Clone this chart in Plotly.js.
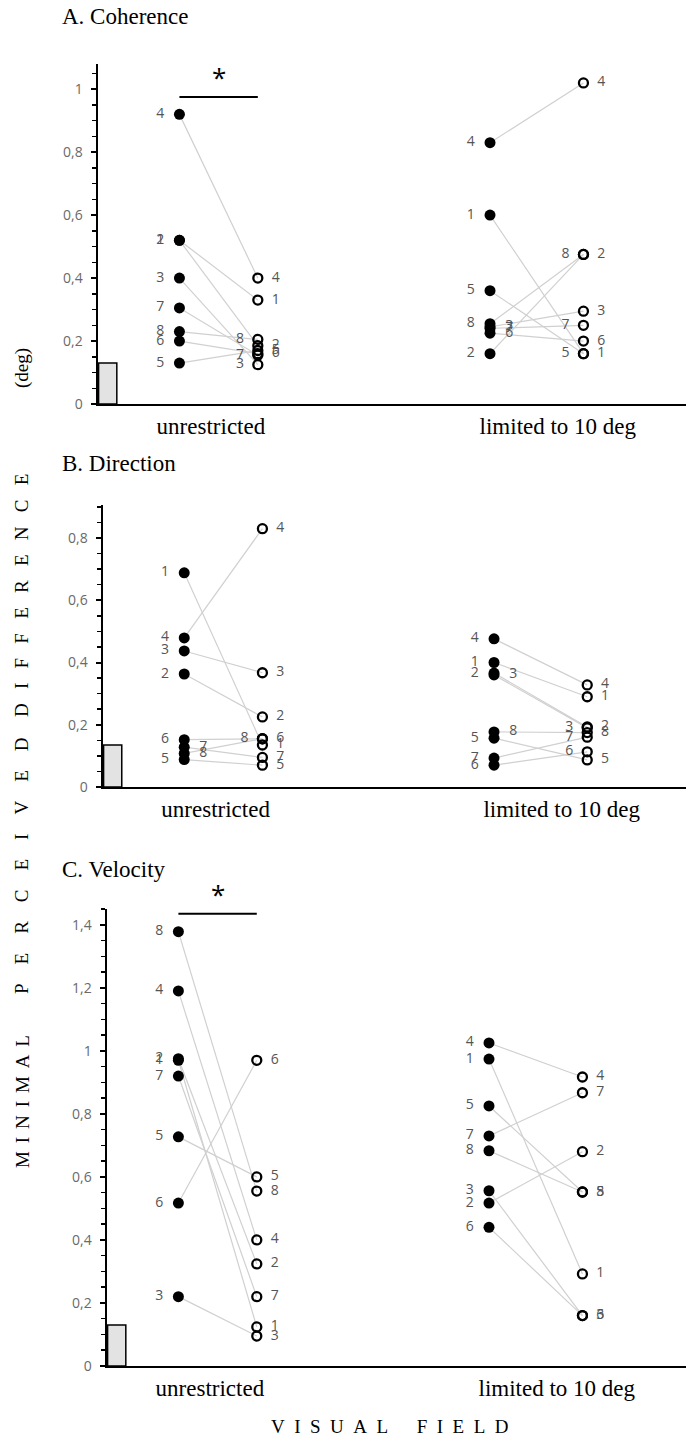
<!DOCTYPE html>
<html><head><meta charset="utf-8">
<script src="https://cdn.plot.ly/plotly-3.0.1.min.js"></script>
<style>html,body{margin:0;padding:0;background:#fff}#chart{width:686px;height:1443px}</style>
</head><body><div id="chart"></div>
<script>
// ---------------- DATA ----------------
const subjects = ['1','2','3','4','5','6','7','8'];
const conditionLabels = ['unrestricted', 'limited to 10 deg'];
const panelTitles = ['A. Coherence', 'B. Direction', 'C. Velocity'];

// A. Coherence (subjects 1..8)
const coherenceUnrFilled = [0.52, 0.52, 0.40, 0.92, 0.13, 0.20, 0.305, 0.23];
const coherenceUnrOpen   = [0.33, 0.185, 0.125, 0.40, 0.17, 0.16, 0.155, 0.205];
const coherenceLimFilled = [0.60, 0.16, 0.245, 0.83, 0.36, 0.225, 0.24, 0.255];
const coherenceLimOpen   = [0.16, 0.475, 0.295, 1.02, 0.16, 0.20, 0.25, 0.475];

// B. Direction
const directionUnrFilled = [0.688, 0.363, 0.437, 0.479, 0.088, 0.152, 0.128, 0.108];
const directionUnrOpen   = [0.135, 0.225, 0.367, 0.83, 0.07, 0.155, 0.095, 0.155];
const directionLimFilled = [0.40, 0.366, 0.36, 0.476, 0.157, 0.07, 0.093, 0.177];
const directionLimOpen   = [0.29, 0.193, 0.19, 0.328, 0.087, 0.113, 0.16, 0.175];

// C. Velocity
const velocityUnrFilled = [0.97, 0.975, 0.22, 1.19, 0.727, 0.517, 0.92, 1.378];
const velocityUnrOpen   = [0.124, 0.324, 0.095, 0.40, 0.60, 0.97, 0.22, 0.555];
const velocityLimFilled = [0.974, 0.517, 0.556, 1.025, 0.825, 0.44, 0.73, 0.683];
const velocityLimOpen   = [0.292, 0.68, 0.16, 0.917, 0.552, 0.16, 0.867, 0.552];

// reference (grey) bar heights per panel
const referenceBar = [0.13, 0.135, 0.13];
// significance bar heights per panel (null = none)
const significance = [0.975, null, 1.435];

// y axis tick values
const yTicksA = [0, 0.2, 0.4, 0.6, 0.8, 1];
const yTicksB = [0, 0.2, 0.4, 0.6, 0.8];
const yTicksC = [0, 0.2, 0.4, 0.6, 0.8, 1, 1.2, 1.4];

// ---------------- LAYOUT CONSTANTS ----------------
const W = 686, H = 1443;
const slot = {unrFilled: 1.385, unrOpen: 2.718, limFilled: 6.667, limOpen: 8.256};
const catTicks = [1.92, 7.82];
const panels = [
  {data: [coherenceUnrFilled, coherenceUnrOpen, coherenceLimFilled, coherenceLimOpen],
   ticks: yTicksA, yr: [0, 1.08], xr: [0, 10], x0px: 98, y0px: 404, ytop: 64,
   flip: {unrFilled: [], unrOpen: [3, 7, 8], limFilled: [3, 6, 7], limOpen: [5, 7, 8]}},
  {data: [directionUnrFilled, directionUnrOpen, directionLimFilled, directionLimOpen],
   ticks: yTicksB, yr: [0, 0.906], xr: [0, 9.94], x0px: 103, y0px: 787, ytop: 505,
   flip: {unrFilled: [7, 8], unrOpen: [8], limFilled: [3, 8], limOpen: [3, 6, 7]}},
  {data: [velocityUnrFilled, velocityUnrOpen, velocityLimFilled, velocityLimOpen],
   ticks: yTicksC, yr: [0, 1.45], xr: [0.171, 10.017], x0px: 107, y0px: 1366, ytop: 909,
   flip: {unrFilled: [], unrOpen: [], limFilled: [], limOpen: []}}
];
const titleY = [17, 464, 869];

const traces = [];
const layout = {
  width: W, height: H, margin: {l: 0, r: 0, t: 0, b: 0},
  paper_bgcolor: '#fff', plot_bgcolor: '#fff',
  showlegend: false, separators: ',.',
  font: {family: '"Open Sans", sans-serif', color: '#595959'},
  annotations: [], shapes: []
};

const labelFont = {family: '"Open Sans", sans-serif', size: 14, color: '#555'};
const serif = '"Liberation Serif", "Times New Roman", serif';
const pad = '\u00a0\u00a0';

panels.forEach((p, i) => {
  const n = i === 0 ? '' : String(i + 1);
  const xa = 'x' + n, ya = 'y' + n;
  const keys = ['unrFilled', 'unrOpen', 'limFilled', 'limOpen'];
  // connecting lines
  [[0, 1], [2, 3]].forEach(([a, b]) => {
    const xs = [], ys = [];
    subjects.forEach((s, k) => {
      xs.push(slot[keys[a]], slot[keys[b]], null);
      ys.push(p.data[a][k], p.data[b][k], null);
    });
    traces.push({type: 'scatter', mode: 'lines', x: xs, y: ys, xaxis: xa, yaxis: ya,
      line: {color: '#d0d0d0', width: 1.2}, hoverinfo: 'skip', cliponaxis: false});
  });
  // reference bar
  traces.push({type: 'bar', x: [p.xr[0] + 0.165], y: [referenceBar[i]], width: [0.31],
    xaxis: xa, yaxis: ya, marker: {color: '#e3e3e3', line: {color: '#000', width: 1.5}}});
  // markers
  keys.forEach((key, j) => {
    const filled = j % 2 === 0;
    const lefts = subjects.map(s => {
      const flipped = p.flip[key].includes(Number(s));
      return filled ? !flipped : flipped;
    });
    traces.push({type: 'scatter', mode: 'markers+text',
      x: subjects.map(() => slot[key]), y: p.data[j],
      text: subjects.map((s, k) => lefts[k] ? s + pad : pad + s),
      textposition: lefts.map(l => l ? 'middle left' : 'middle right'),
      textfont: labelFont, xaxis: xa, yaxis: ya, cliponaxis: false,
      marker: filled ? {symbol: 'circle', size: 11, color: '#000'}
                     : {symbol: 'circle-open', size: 9, color: '#000', line: {width: 2.3, color: '#000'}}
    });
  });

  const xdom = [p.x0px / W, 1];
  const ydom = [1 - p.y0px / H, 1 - p.ytop / H];
  layout['xaxis' + n] = {domain: xdom, range: p.xr, anchor: ya, showline: true, linecolor: '#000',
    linewidth: 2, ticks: '', showgrid: false, zeroline: false, tickvals: catTicks,
    ticktext: conditionLabels, tickfont: {family: serif, size: 23, color: '#000'}, ticklabelstandoff: 0, fixedrange: true};
  layout['yaxis' + n] = {domain: ydom, range: p.yr, anchor: xa, showline: true, linecolor: '#000',
    linewidth: 2.5, ticks: 'outside', ticklen: 5, tickwidth: 2, tickcolor: '#000',
    tickvals: p.ticks, showgrid: false, zeroline: false, ticklabelstandoff: 5,
    tickfont: {family: '"Open Sans", sans-serif', size: 14, color: '#6a6a6a'},
    minor: {dtick: 0.05, ticks: 'outside', ticklen: 4, tickwidth: 1.5, tickcolor: '#000', showgrid: false},
    fixedrange: true};

  // panel title
  layout.annotations.push({text: panelTitles[i], xref: 'paper', yref: 'paper', x: 60 / W,
    y: 1 - titleY[i] / H, xanchor: 'left', yanchor: 'middle', showarrow: false,
    font: {family: serif, size: 23, color: '#000'}});

  // significance
  if (significance[i] !== null) {
    layout.shapes.push({type: 'line', xref: xa, yref: ya, x0: slot.unrFilled, x1: slot.unrOpen,
      y0: significance[i], y1: significance[i], line: {color: '#000', width: 2}});
    layout.annotations.push({text: '*', xref: xa, yref: ya, x: (slot.unrFilled + slot.unrOpen) / 2,
      y: significance[i], yanchor: 'bottom', showarrow: false,
      font: {family: '"Open Sans", sans-serif', size: 26, color: '#000'}});
  }
});

// global y title (letter spaced words)
function spaced(word, gap) {
  return word.split('').join(gap);
}
const NB = '\u00a0';
const yWords = [[spaced('MINIMAL', NB + '\u2006'), 1102], [spaced('PERCEIVED', NB.repeat(4)), 866],
                [spaced('DIFFERENCE', NB.repeat(3)), 596], ['(deg)', 368]];
yWords.forEach(([t, yc]) => {
  layout.annotations.push({text: t, xref: 'paper', yref: 'paper', x: 22 / W, y: 1 - yc / H,
    textangle: -90, showarrow: false, xanchor: 'center', yanchor: 'middle',
    font: {family: serif, size: 19, color: '#000'}});
});
layout.annotations.push({text: spaced('VISUAL', NB + NB) + NB.repeat(6) + spaced('FIELD', NB + NB), xref: 'paper', yref: 'paper',
  x: 390 / W, y: 1 - 1426 / H, showarrow: false, xanchor: 'center', yanchor: 'middle',
  font: {family: serif, size: 19, color: '#000'}});

Plotly.newPlot('chart', traces, layout, {staticPlot: true, displayModeBar: false});
</script></body></html>
